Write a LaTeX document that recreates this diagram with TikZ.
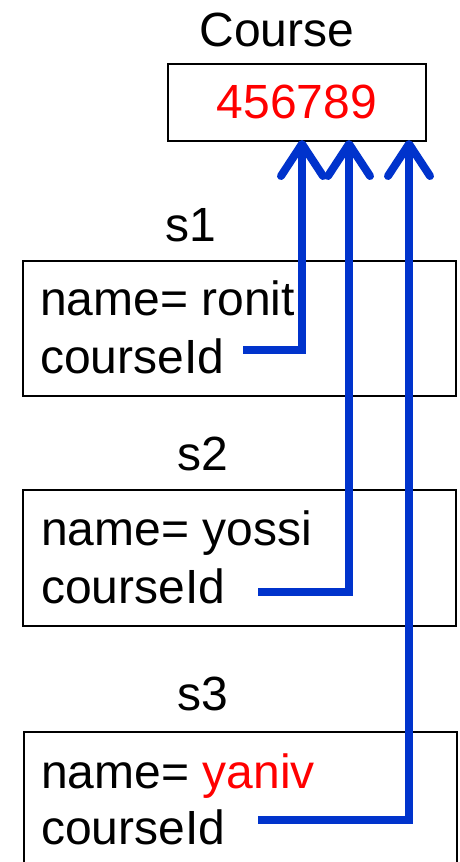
\documentclass[tikz,border=0pt]{standalone}
\usepackage{fontspec}
\setmainfont{Liberation Sans}
\usetikzlibrary{arrows.meta}
\definecolor{linkblue}{RGB}{0,51,204}
\definecolor{valred}{RGB}{255,0,0}
\begin{document}
\begin{tikzpicture}[x=1pt,y=-1pt,
  big/.style={font=\fontsize{48}{56}\selectfont, inner sep=0pt},
  objbox/.style={draw=black, line width=1.6pt, anchor=north west, inner sep=0pt},
  link/.style={draw=linkblue, line width=8pt, -{Straight Barb[length=32pt,width=42pt,round]}}
]
\useasboundingbox (0,0) rectangle (459,862);
% Course
\node[big, anchor=base] (lcourse) at (277,46) {Course};
\node[objbox, minimum width=258pt, minimum height=77pt] (course) at (167,63) {};
\node[big, text=valred] (cval) at (course.center) {456789};
% s1
\node[big, anchor=base] (ls1) at (191,241) {s1};
\node[objbox, minimum width=433pt, minimum height=135pt] (s1) at (22,260) {};
\node[big, anchor=base west] (n1) at (40,315) {name= ronit};
\node[big, anchor=base west] (c1t) at (40,373) {courseId};
% s2
\node[big, anchor=base] (ls2) at (203,470) {s2};
\node[objbox, minimum width=433pt, minimum height=136pt] (s2) at (22,489) {};
\node[big, anchor=base west] (n2) at (41,545) {name= yossi};
\node[big, anchor=base west] (c2t) at (41,603) {courseId};
% s3
\node[big, anchor=base] (ls3) at (203,710) {s3};
\node[objbox, minimum width=433pt, minimum height=140pt] (s3) at (23,731) {};
\node[big, anchor=base west] (n3) at (41,788) {name= \textcolor{valred}{yaniv}};
\node[big, anchor=base west] (c3t) at (41,844) {courseId};
% connectors
\coordinate (a1) at (243,350);
\coordinate (a2) at (258,592);
\coordinate (a3) at (258,820);
\coordinate (t1) at (302,140);
\coordinate (t2) at (349,140);
\coordinate (t3) at (409,140);
\draw[link] (a1) -| (t1);
\draw[link] (a2) -| (t2);
\draw[link] (a3) -| (t3);
\end{tikzpicture}
\end{document}
